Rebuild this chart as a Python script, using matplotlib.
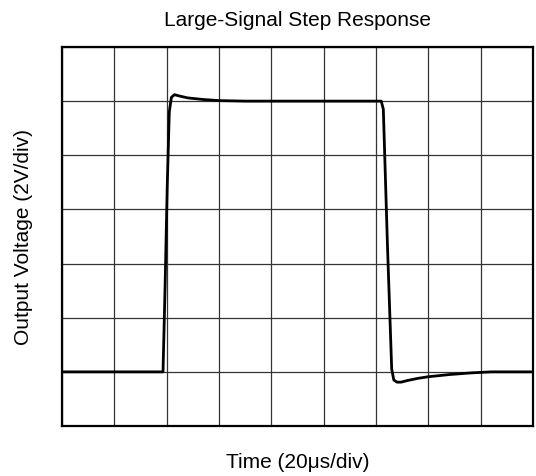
import matplotlib
matplotlib.use("Agg")
import matplotlib.pyplot as plt

# scope trace, in divisions
time_div = [0.0, 1.93, 1.97, 2.01, 2.05, 2.09, 2.15, 2.22, 2.4, 2.7, 3.0, 3.5, 6.1, 6.14,
            6.22, 6.3, 6.34, 6.4, 6.48, 6.6, 6.8, 7.0, 7.4, 7.8, 8.2, 9.0]
volt_div = [1.0, 1.0, 2.6, 4.4, 5.8, 6.07, 6.12, 6.1, 6.06, 6.03, 6.01, 6.0, 6.0, 5.85,
            3.3, 1.05, 0.85, 0.81, 0.81, 0.84, 0.88, 0.91, 0.95, 0.98, 1.0, 1.0]

title = "Large-Signal Step Response"
x_label = "Time (20μs/div)"
y_label = "Output Voltage (2V/div)"


def main():
    plt.rcParams["font.family"] = ["Liberation Sans", "DejaVu Sans"]
    fig = plt.figure(figsize=(5.36, 4.77), dpi=100)
    ax = fig.add_axes([0.1157, 0.1048, 0.8787, 0.7946])

    ax.plot(time_div, volt_div, color="black", lw=2.0, solid_joinstyle="round")

    ax.set_xlim(0, 9)
    ax.set_ylim(0, 7)
    ax.set_xticks(range(10))
    ax.set_yticks(range(8))
    ax.grid(True, color="#333333", lw=0.9)
    ax.tick_params(length=0, labelbottom=False, labelleft=False)
    for s in ax.spines.values():
        s.set_linewidth(1.6)

    ax.set_title(title, fontsize=15, pad=16)
    ax.set_xlabel(x_label, fontsize=15, labelpad=19)
    ax.set_ylabel(y_label, fontsize=15, labelpad=21)

    fig.savefig("out.png", dpi=100)


if __name__ == "__main__":
    main()
